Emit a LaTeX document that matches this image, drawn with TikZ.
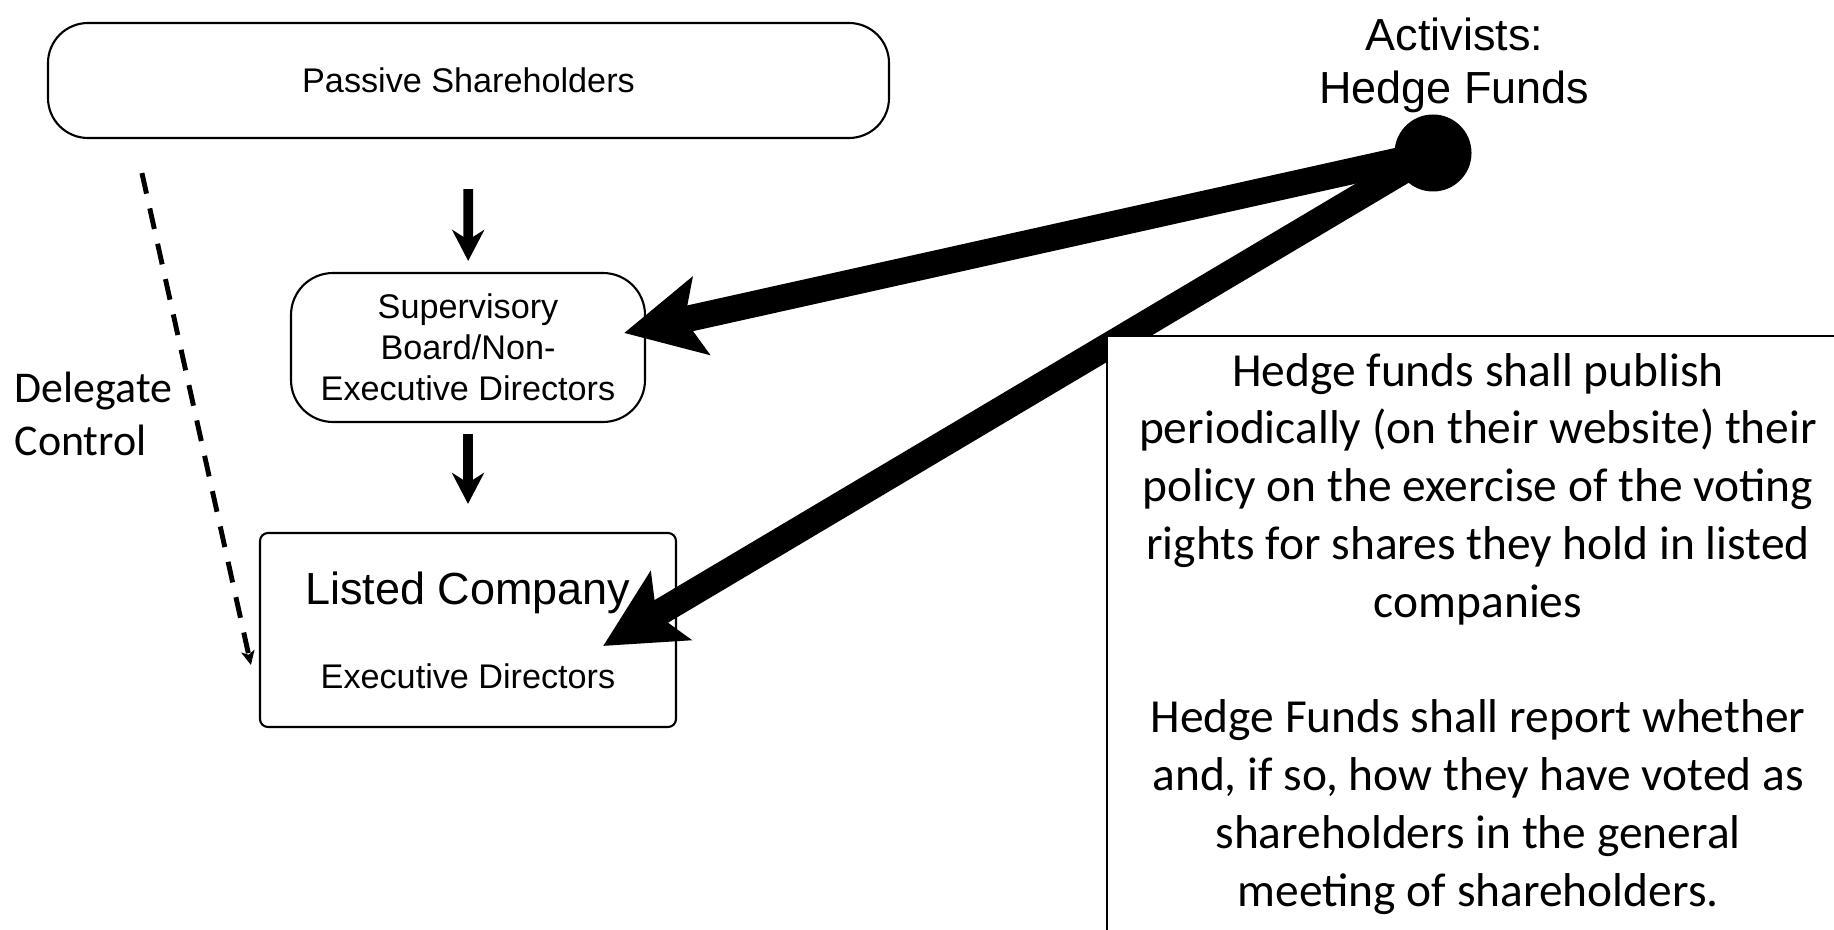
\documentclass[tikz,border=0pt]{standalone}
\usepackage{fontspec}
\setmainfont{Liberation Sans}
\newfontfamily\calibri{Carlito}
\usetikzlibrary{arrows.meta}
\usetikzlibrary{calc}

\begin{document}
\begin{tikzpicture}[>/.tip={Stealth},
	box/.style={shape=rectangle,draw,line width=0.6pt,align=center,font=\fontsize{9.73}{11.67}\selectfont},
	down arrow/.style={-{Stealth[length=0.31cm,width=0.32cm,inset=0.1cm]},line width=2.8pt},
	fat arrow/.style={-{Stealth[length=0.78cm,width=0.78cm,inset=0.16cm]},line width=7.5pt},
	delegate/.style={-{Stealth[length=4pt,width=3.8pt,inset=1pt]},line width=1.4pt,dash pattern=on 6pt off 4.3pt}]
	\useasboundingbox (0,0) rectangle (18.34,-9.30);
	\draw (4.685,-0.805) node (ps) [box,rounded corners=0.4cm,minimum width=8.41cm,minimum height=1.15cm] {Passive Shareholders};
	\draw (4.68,-3.475) node (sb) [box,rounded corners=0.42cm,minimum width=3.54cm,minimum height=1.49cm] {Supervisory\\Board/Non-\\Executive Directors};
	\draw (4.68,-6.30) node (lc) [box,rounded corners=0.08cm,minimum width=4.16cm,minimum height=1.94cm] {{\fontsize{12.8}{14.97}\selectfont Listed Company}\\[12.2pt]Executive Directors};
	\draw (14.545,-0.657) node (act) [align=center,inner sep=0pt,font=\fontsize{12.8}{15.08}\selectfont] {Activists:\\Hedge Funds};
	\draw (0.14,-4.14) node (dl) [anchor=west,align=left,inner sep=0pt,font=\calibri\fontsize{12.5}{15.08}\selectfont] {Delegate\\Control};
	\draw (14.33,-1.53) node (hf) [shape=circle,fill,inner sep=0pt,minimum size=0.77cm] {};
	\draw[down arrow,shorten <=0.50cm,shorten >=0.11cm] (ps) -- (sb);
	\draw[down arrow,shorten <=0.11cm,shorten >=0.28cm] (sb) -- (lc);
	\draw[delegate] ($(ps.south west)+(0.95,-0.34)$) -- ($(lc.west)+(-0.08,-0.35)$);
	\draw[fat arrow] (hf.center) -- ($(sb.east)+(-0.22,0.145)$);
	\draw[fat arrow] (hf.center) -- ($(lc.east)+(-0.74,-0.16)$);
	\draw (11.06,-3.35) node (note) [anchor=north west,draw,fill=white,line width=0.6pt,align=center,minimum width=7.42cm,inner ysep=0.17cm,font=\calibri\fontsize{13.5}{16.45}\selectfont] {Hedge funds shall publish\\periodically (on their website) their\\policy on the exercise of the voting\\rights for shares they hold in listed\\companies\\[16.45pt]Hedge Funds shall report whether\\and, if so, how they have voted as\\shareholders in the general\\meeting of shareholders.};
\end{tikzpicture}
\end{document}
